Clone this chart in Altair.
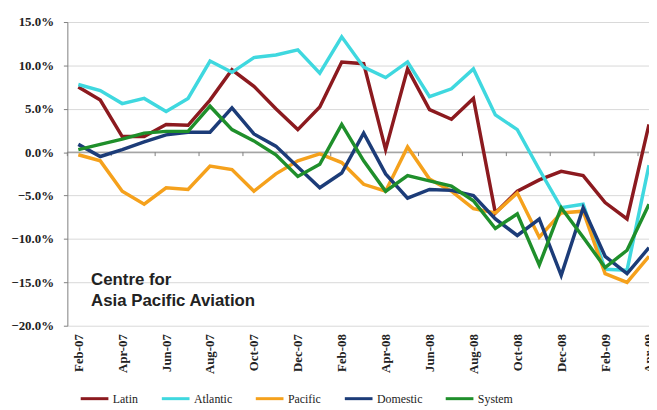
import altair as alt
import pandas as pd

months = ["Feb-07", "Mar-07", "Apr-07", "May-07", "Jun-07", "Jul-07", "Aug-07", "Sep-07",
          "Oct-07", "Nov-07", "Dec-07", "Jan-08", "Feb-08", "Mar-08", "Apr-08", "May-08",
          "Jun-08", "Jul-08", "Aug-08", "Sep-08", "Oct-08", "Nov-08", "Dec-08", "Jan-09",
          "Feb-09", "Mar-09", "Apr-09"]

latin = [7.5, 6.0, 1.8, 1.8, 3.2, 3.1, 6.0, 9.5, 7.6, 5.0, 2.6, 5.2, 10.4, 10.2, 0.3, 9.6,
         4.9, 3.8, 6.2, -7.0, -4.5, -3.2, -2.2, -2.7, -5.8, -7.7, 3.2]
atlantic = [7.8, 7.1, 5.6, 6.2, 4.7, 6.2, 10.5, 9.2, 10.9, 11.2, 11.8, 9.1, 13.3, 9.8, 8.6,
            10.4, 6.4, 7.3, 9.6, 4.3, 2.6, -2.0, -6.4, -6.0, -13.5, -13.6, -1.5]
pacific = [-0.3, -1.0, -4.5, -6.0, -4.1, -4.3, -1.6, -2.0, -4.5, -2.5, -1.0, -0.2, -1.2, -3.7,
           -4.5, 0.6, -3.1, -4.5, -6.5, -7.0, -4.7, -9.8, -7.0, -6.8, -14.0, -15.0, -12.0]
domestic = [0.9, -0.5, 0.3, 1.2, 2.0, 2.3, 2.3, 5.1, 2.1, 0.7, -1.7, -4.1, -2.4, 2.2, -2.5,
            -5.3, -4.3, -4.4, -5.0, -7.7, -9.6, -7.7, -14.2, -6.4, -12.0, -14.0, -11.0]
system = [0.3, 0.9, 1.5, 2.2, 2.4, 2.4, 5.3, 2.6, 1.3, -0.3, -2.8, -1.4, 3.2, -1.0, -4.5,
          -2.7, -3.3, -3.9, -5.6, -8.8, -7.1, -13.0, -6.4, -9.8, -13.3, -11.3, -6.0]

series_names = ["Latin", "Atlantic", "Pacific", "Domestic", "System"]
series_values = [latin, atlantic, pacific, domestic, system]
colors = ["#8c1a1f", "#3fd8df", "#f5a11c", "#1c3c78", "#1f8f2b"]

y_ticks = [-20, -15, -10, -5, 0, 5, 10, 15]

rows = []
for name, vals in zip(series_names, series_values):
    for i, (m, v) in enumerate(zip(months, vals)):
        rows.append({"idx": i, "month": m, "series": name, "value": v})
df = pd.DataFrame(rows)

label_expr = "[" + ",".join("'%s'" % m for m in months) + "][datum.value]"

x_scale = alt.Scale(domain=[-0.5, 26.0], nice=False, zero=False)
y_scale = alt.Scale(domain=[-20, 15], nice=False, zero=False)
color_scale = alt.Scale(domain=series_names, range=colors)

x_axis = alt.Axis(values=list(range(0, len(months), 2)), labelExpr=label_expr, labelAngle=-90,
                  labelFont="Liberation Serif", labelFontWeight="bold", labelFontSize=13,
                  labelColor="#222222", domain=False, ticks=False, grid=False, title=None,
                  labelPadding=8, labelOverlap=False, labelFlush=False)
y_axis = alt.Axis(values=y_ticks, labelExpr="format(datum.value, '.1f') + '%'",
                  labelFont="Liberation Serif", labelFontWeight="bold", labelFontSize=13,
                  labelColor="#222222", domainColor="#808080", tickColor="#808080",
                  tickSize=4, labelPadding=10, gridColor="#d9d9d9", title=None)

legend = alt.Legend(orient="none", legendX=12, legendY=365, direction="horizontal",
                    symbolType="stroke", symbolStrokeWidth=3, symbolSize=784,
                    labelFont="Liberation Serif", labelFontSize=12, labelColor="#222222",
                    columnPadding=17, labelOffset=3, title=None)

base = alt.Chart(df)
line_layers = []
for name in series_names:
    line_layers.append(
        base.transform_filter(alt.datum.series == name)
        .mark_line(strokeWidth=3.5, clip=True)
        .encode(
            x=alt.X("idx:Q", scale=x_scale, axis=x_axis),
            y=alt.Y("value:Q", scale=y_scale, axis=y_axis),
            color=alt.Color("series:N", scale=color_scale, legend=legend),
        )
    )

zero_df = pd.DataFrame({"idx": [0], "value": [0]})
zero_line = alt.Chart(zero_df).mark_rule(color="#808080", strokeWidth=1).encode(
    y=alt.Y("value:Q", scale=y_scale, axis=y_axis)
)

bounds = [i - 0.5 for i in range(0, len(months), 2)]
tick_df = pd.DataFrame({"idx": bounds, "value": [0] * len(bounds), "low": [-0.45] * len(bounds)})
zero_ticks = alt.Chart(tick_df).mark_rule(color="#808080", strokeWidth=1).encode(
    x=alt.X("idx:Q", scale=x_scale, axis=x_axis),
    y=alt.Y("value:Q", scale=y_scale, axis=y_axis),
    y2="low:Q",
)

logo_font = "Liberation Sans Narrow, Liberation Sans, Arial"
logo1 = alt.Chart(pd.DataFrame({"t": ["Centre for"]})).mark_text(
    align="left", baseline="alphabetic", font=logo_font, fontSize=17, fontWeight="bold",
    color="#222222"
).encode(x=alt.value(24), y=alt.value(266), text="t:N")
logo2 = alt.Chart(pd.DataFrame({"t": ["Asia Pacific Aviation"]})).mark_text(
    align="left", baseline="alphabetic", font=logo_font, fontSize=17, fontWeight="bold",
    color="#222222"
).encode(x=alt.value(24), y=alt.value(287), text="t:N")

chart = alt.layer(zero_line, zero_ticks, *line_layers, logo1, logo2).properties(
    width=588, height=307,
    autosize=alt.AutoSizeParams(type="none"),
    padding={"left": 60, "top": 12, "right": 0, "bottom": 82},
    background="white",
).configure_view(stroke=None)

chart.save("out.html", embed_options={"renderer": "svg", "actions": False})
